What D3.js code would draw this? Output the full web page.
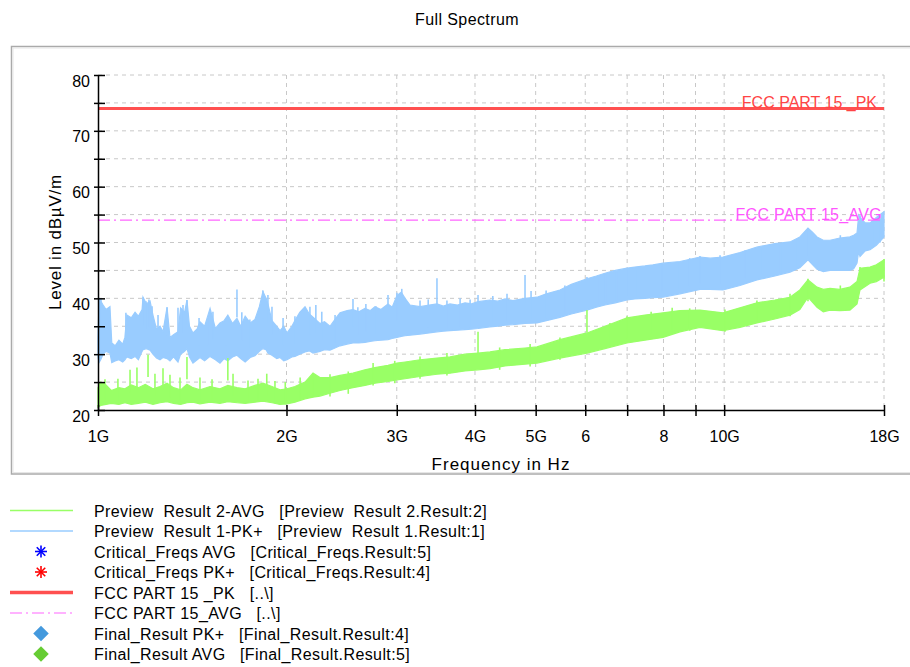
<!DOCTYPE html>
<html>
<head>
<meta charset="utf-8">
<script src="https://cdn.jsdelivr.net/npm/d3@7/dist/d3.min.js"></script>
<style>
  html, body { margin: 0; padding: 0; background: #ffffff; }
  svg { display: block; font-family: "Liberation Sans", Arial, sans-serif; }
</style>
</head>
<body>
<svg id="chart" width="910" height="667"></svg>
<script>
// ---------- DATA ----------
const chartTitle = "Full Spectrum";
const xAxisTitle = "Frequency in Hz";
const yAxisTitle = "Level in dBµV/m";

// x ticks in GHz
const xTickValues = [1, 2, 3, 4, 5, 6, 7, 8, 9, 10, 18];
const xTickLabels = ["1G", "2G", "3G", "4G", "5G", "6", "", "8", "", "10G", "18G"];
const yTickValues = [20, 25, 30, 35, 40, 45, 50, 55, 60, 65, 70, 75, 80];
const yTickLabels = ["20", "", "30", "", "40", "", "50", "", "60", "", "70", "", "80"];

// Preview Result 1-PK+ : envelope of the dense trace (GHz, dBµV/m)
const pkFreq = [1.000,1.004,1.010,1.019,1.030,1.045,1.052,1.065,1.080,1.095,1.104,1.112,1.130,1.146,1.160,1.176,1.180,1.195,1.211,1.224,1.240,1.256,1.270,1.289,1.303,1.320,1.342,1.355,1.375,1.387,1.400,1.418,1.440,1.455,1.480,1.510,1.540,1.566,1.590,1.612,1.640,1.667,1.690,1.718,1.750,1.781,1.810,1.834,1.855,1.868,1.896,1.930,1.953,1.980,2.004,2.040,2.063,2.100,2.141,2.175,2.205,2.262,2.300,2.347,2.400,2.435,2.500,2.554,2.610,2.669,2.720,2.769,2.830,2.905,2.950,3.002,3.050,3.093,3.150,3.268,3.380,3.478,3.560,3.649,3.750,3.856,3.950,4.045,4.227,4.350,4.467,4.600,4.808,5.024,5.200,5.467,5.700,6.038,6.250,6.451,6.700,6.996,7.200,7.472,7.700,7.986,8.500,9.149,9.500,9.957,10.60,11.28,12.05,12.74,13.21,13.61,13.85,14.07,14.40,14.76,15.30,15.88,16.10,16.30,16.40,16.48,16.80,17.10,17.50,18.00];
const pkLow  = [29.5,28.5,29.0,30.0,30.5,30.2,28.5,28.8,29.0,28.6,29.0,29.5,29.2,29.6,29.0,30.5,30.8,31.0,30.7,30.0,29.3,29.0,29.4,29.2,28.8,29.5,28.6,30.0,30.5,31.0,29.5,28.4,29.0,29.4,28.8,29.6,29.0,28.4,29.2,28.8,29.5,29.8,29.2,28.6,29.4,29.7,30.5,31.0,30.8,30.2,29.8,29.2,29.4,28.8,29.0,29.5,29.6,30.0,30.4,30.6,30.2,30.5,30.8,30.7,31.2,31.5,31.8,32.0,32.0,32.1,32.3,32.4,32.5,32.6,32.8,33.0,33.2,33.3,33.4,33.6,33.8,34.0,34.1,34.2,34.3,34.4,34.5,34.6,34.9,35.0,35.2,35.3,35.5,35.6,36.0,36.6,37.2,37.9,38.4,38.8,39.2,39.7,39.9,40.0,40.1,40.2,40.8,41.6,41.6,41.5,42.3,43.3,44.0,44.7,45.5,46.9,46.0,45.2,44.8,45.0,45.0,45.0,45.3,46.3,48.5,47.5,48.5,48.7,49.5,51.0];
const pkHigh = [33.0,40.0,39.5,38.8,38.0,38.5,32.0,31.5,32.5,31.8,33.0,37.0,36.5,37.5,36.8,38.0,40.2,39.0,39.5,37.0,34.5,35.0,34.0,38.4,33.0,33.5,34.0,38.3,37.5,39.7,35.0,33.8,34.5,35.8,35.0,38.2,34.6,35.6,36.0,37.0,35.5,36.4,35.0,36.8,35.6,36.2,38.5,41.2,40.0,39.0,36.0,35.0,34.2,35.0,33.8,35.0,36.0,37.5,38.5,37.2,36.6,35.5,35.8,35.0,36.5,37.4,37.8,38.0,37.6,38.2,37.8,38.5,38.0,39.0,38.4,40.5,41.1,40.0,38.8,38.5,38.8,39.0,38.6,39.0,38.8,39.2,39.0,39.4,39.7,39.5,39.9,39.6,40.0,40.2,40.8,41.5,42.5,43.5,44.0,44.5,45.0,45.4,45.6,45.8,46.0,46.3,46.6,47.4,47.2,47.4,48.2,49.2,49.8,50.1,51.0,52.6,51.8,51.0,50.4,50.4,50.8,51.0,51.3,51.7,54.9,54.5,53.5,53.5,54.5,55.5];

// Preview Result 2-AVG : envelope of the dense trace
const avgFreq = [1.000,1.010,1.030,1.050,1.080,1.104,1.130,1.160,1.190,1.224,1.256,1.289,1.320,1.355,1.387,1.418,1.455,1.510,1.566,1.612,1.667,1.718,1.781,1.834,1.896,1.953,2.004,2.063,2.141,2.205,2.262,2.347,2.435,2.554,2.669,2.769,2.905,3.002,3.093,3.268,3.478,3.649,3.856,4.045,4.227,4.467,4.808,5.024,5.467,6.038,6.451,6.996,7.472,7.986,8.500,9.149,9.957,10.60,11.28,12.05,12.74,13.21,13.61,14.07,14.40,14.76,15.30,15.88,16.30,16.48,17.10,17.50,18.00];
const avgLow  = [20.5,20.8,21.0,21.2,21.0,21.3,21.0,21.2,21.4,21.0,21.3,21.5,21.2,21.0,21.3,21.4,21.1,21.4,21.2,21.5,21.3,21.2,21.4,21.6,21.3,21.0,21.1,21.4,22.0,22.3,22.5,23.0,23.5,24.0,24.4,24.8,25.1,25.4,25.6,26.0,26.4,26.6,27.0,27.2,27.4,27.9,28.2,28.4,29.3,30.2,31.0,32.0,32.5,33.0,34.0,34.8,34.2,34.8,35.6,36.3,37.0,38.0,40.2,38.4,37.6,37.9,37.8,37.9,39.0,41.5,42.7,43.0,43.8];
const avgHigh = [24.0,25.0,24.5,23.5,24.0,23.8,24.5,24.0,24.6,23.8,24.2,24.8,24.0,23.6,24.6,24.0,23.6,24.2,23.8,24.4,24.0,23.8,24.4,24.8,24.2,23.6,23.8,24.2,25.0,26.6,25.8,25.8,26.2,26.6,27.2,27.6,28.0,28.4,28.6,29.0,29.3,29.5,30.0,30.2,30.4,30.8,31.1,31.3,32.6,33.8,35.0,36.5,37.0,37.4,37.8,37.9,37.4,38.3,39.2,39.7,40.2,41.5,43.3,42.0,41.6,41.8,41.6,42.0,43.0,45.4,45.6,46.0,46.9];

// peaks standing out of the traces (GHz, dBµV/m)
const pkSpikeFreq  = [1.011,1.108,1.180,1.193,1.206,1.220,1.247,1.289,1.342,1.367,1.387,1.450,1.498,1.526,1.601,1.667,1.697,1.748,1.834,1.868,1.896,1.975,2.063,2.180,2.228,2.277,2.391,2.554,2.600,2.678,2.779,2.905,3.002,3.056,3.268,3.368,3.478,3.608,3.787,3.929,4.045,4.271,4.500,4.808,4.916,5.196,5.567,6.038,6.283,6.466,6.730,6.996,7.264,7.957,8.430,8.810,9.149,9.850,10.80,11.42,12.30,13.09,13.61,15.33,16.48,17.24,17.74];
const pkSpikeLevel = [40.0,37.4,40.2,39.5,39.8,38.6,37.0,38.4,38.3,38.8,39.7,36.5,36.5,37.6,36.5,41.6,37.5,36.2,41.4,40.6,38.5,36.5,36.8,38.5,38.8,37.6,37.0,39.9,38.4,39.0,38.6,40.6,41.0,41.7,39.6,39.8,43.6,39.6,40.0,39.8,40.6,40.4,40.8,44.2,41.3,41.4,42.3,43.8,43.8,44.2,44.6,45.4,45.1,46.2,46.5,47.2,47.6,47.7,48.6,49.2,49.5,50.5,52.6,51.3,54.9,54.0,55.0];
const avgSpikeFreq  = [1.004,1.026,1.076,1.125,1.154,1.202,1.233,1.270,1.303,1.352,1.387,1.455,1.521,1.612,1.643,1.736,1.801,1.860,1.917,1.991,2.103,2.205,2.347,2.510,2.750,2.978,3.268,3.608,4.045,4.380,4.899,5.467,6.038,6.571,6.996,7.645,8.260,8.810,10.03,11.28,12.74,13.61,15.33,16.48,18.00];
const avgSpikeLevel = [25.0,25.5,25.6,27.2,27.6,29.9,26.5,27.5,26.3,25.8,29.5,25.8,25.5,29.3,26.5,25.3,25.6,26.5,25.2,25.0,25.8,26.6,26.4,26.9,28.4,28.8,29.6,30.2,34.0,31.2,31.8,33.0,37.9,35.6,36.8,37.6,38.3,38.2,38.0,39.6,40.8,43.5,42.3,45.6,47.0];

// limit lines
const limitPK = 74;
const limitAVG = 54;
const limitPKLabel = "FCC PART 15 _PK";
const limitAVGLabel = "FCC PART 15_AVG";

// legend
const legendLabels = [
  "Preview  Result 2-AVG   [Preview  Result 2.Result:2]",
  "Preview  Result 1-PK+   [Preview  Result 1.Result:1]",
  "Critical_Freqs AVG   [Critical_Freqs.Result:5]",
  "Critical_Freqs PK+   [Critical_Freqs.Result:4]",
  "FCC PART 15 _PK   [..\\]",
  "FCC PART 15_AVG   [..\\]",
  "Final_Result PK+   [Final_Result.Result:4]",
  "Final_Result AVG   [Final_Result.Result:5]"
];
const legendKinds = ["line", "line", "star", "star", "thick", "dashdot", "diamond", "diamond"];
const legendColors = ["#99ff66", "#99ccff", "#0000ff", "#ff0000", "#ff5050", "#ff66ff", "#4499dd", "#66cc33"];

// ---------- DRAWING ----------
const svg = d3.select("#chart");
const C = {
  pk: "#99ccff", avg: "#99ff66", red: "#ff5050", mag: "#ff66ff", grid: "#c8c8c8"
};

const x = d3.scaleLog().domain([1, 18]).range([98, 884]);
const y = d3.scaleLinear().domain([20, 80]).range([410, 75]);

// outer frame
svg.append("rect").attr("x", 11.5).attr("y", 46.5).attr("width", 900).attr("height", 427.5)
  .attr("fill", "#ffffff").attr("stroke", "#aaaaaa").attr("stroke-width", 1.5);
svg.append("rect").attr("x", 13).attr("y", 48).attr("width", 900).attr("height", 424.5)
  .attr("fill", "none").attr("stroke", "#e6e6e6").attr("stroke-width", 1);

// title
svg.append("text").attr("x", 467).attr("y", 25).attr("text-anchor", "middle")
  .attr("font-size", 16).attr("letter-spacing", 0.4).attr("fill", "#000").text(chartTitle);

// grid
const grid = svg.append("g");
grid.selectAll("line.h").data(yTickValues.filter(v => v > 20)).join("line")
  .attr("x1", x(1)).attr("x2", x(18)).attr("y1", d => y(d)).attr("y2", d => y(d))
  .attr("stroke", C.grid).attr("stroke-dasharray", "4,4").attr("stroke-width", 1);
grid.selectAll("line.v").data(xTickValues.filter(v => v > 1)).join("line")
  .attr("x1", d => x(d)).attr("x2", d => x(d)).attr("y1", y(80)).attr("y2", y(20))
  .attr("stroke", C.grid).attr("stroke-dasharray", "4,4").attr("stroke-width", 1);

// traces
const pkData = pkFreq.map((f, i) => ({ f, lo: pkLow[i], hi: pkHigh[i] }));
const avgData = avgFreq.map((f, i) => ({ f, lo: avgLow[i], hi: avgHigh[i] }));
const band = d3.area().x(d => x(d.f)).y0(d => y(d.lo)).y1(d => y(d.hi)).curve(d3.curveLinear);

svg.append("path").datum(pkData).attr("d", band).attr("fill", C.pk).attr("stroke", C.pk).attr("stroke-width", 1.2);
svg.selectAll("line.pks").data(pkSpikeFreq).join("line")
  .attr("x1", d => x(d)).attr("x2", d => x(d))
  .attr("y1", (d, i) => y(pkSpikeLevel[i])).attr("y2", (d, i) => y(pkSpikeLevel[i] - 5))
  .attr("stroke", C.pk).attr("stroke-width", 1.6);

svg.append("path").datum(avgData).attr("d", band).attr("fill", C.avg).attr("stroke", C.avg).attr("stroke-width", 1.2);
svg.selectAll("line.avs").data(avgSpikeFreq).join("line")
  .attr("x1", d => x(d)).attr("x2", d => x(d))
  .attr("y1", (d, i) => y(avgSpikeLevel[i])).attr("y2", (d, i) => y(avgSpikeLevel[i] - 4))
  .attr("stroke", C.avg).attr("stroke-width", 1.6);

// limit lines
svg.append("line").attr("x1", x(1)).attr("x2", x(18)).attr("y1", y(limitPK)).attr("y2", y(limitPK))
  .attr("stroke", C.red).attr("stroke-width", 3);
svg.append("text").attr("x", 877).attr("y", y(limitPK) - 0.5).attr("text-anchor", "end")
  .attr("font-size", 16).attr("fill", "#ff4444").text(limitPKLabel);
svg.append("line").attr("x1", x(1)).attr("x2", x(18)).attr("y1", y(limitAVG)).attr("y2", y(limitAVG))
  .attr("stroke", C.mag).attr("stroke-width", 1.2).attr("stroke-dasharray", "12,4,2,4");
svg.append("text").attr("x", 882).attr("y", y(limitAVG)).attr("text-anchor", "end")
  .attr("font-size", 16).attr("letter-spacing", 0.3).attr("fill", "#ff55ff").text(limitAVGLabel);

// axes
const xAxis = d3.axisBottom(x).tickValues(xTickValues)
  .tickFormat((d, i) => xTickLabels[i]).tickSizeInner(0).tickSizeOuter(0).tickPadding(0);
const gx = svg.append("g").attr("transform", `translate(0,${y(20)})`).call(xAxis);
gx.select(".domain").attr("stroke", "#000").attr("stroke-width", 1.5);
gx.selectAll(".tick line").attr("y1", -5).attr("y2", 6).attr("stroke", "#000").attr("stroke-width", 1.5);
gx.selectAll(".tick text").attr("y", 32).attr("dy", 0).attr("font-size", 16)
  .attr("font-family", "Liberation Sans, Arial, sans-serif").attr("fill", "#000");

const yAxis = d3.axisLeft(y).tickValues(yTickValues)
  .tickFormat((d, i) => yTickLabels[i]).tickSizeInner(0).tickSizeOuter(0).tickPadding(0);
const gy = svg.append("g").attr("transform", `translate(${x(1)},0)`).call(yAxis);
gy.select(".domain").attr("stroke", "#000").attr("stroke-width", 1.5);
gy.selectAll(".tick line").attr("x1", -4).attr("x2", 7).attr("stroke", "#000").attr("stroke-width", 1.5);
gy.selectAll(".tick text").attr("x", -8).attr("y", 11).attr("dy", 0).attr("font-size", 16)
  .attr("font-family", "Liberation Sans, Arial, sans-serif").attr("fill", "#000");

// axis titles
svg.append("text").attr("x", 501).attr("y", 470).attr("text-anchor", "middle")
  .attr("font-size", 17).attr("letter-spacing", 1.0).attr("fill", "#000").text(xAxisTitle);
svg.append("text").attr("transform", "translate(61,242) rotate(-90)").attr("text-anchor", "middle")
  .attr("font-size", 17).attr("letter-spacing", 0.8).attr("fill", "#000").text(yAxisTitle);

// legend
const lg = svg.append("g");
const rowY = i => 510.5 + i * 20.5;
legendLabels.forEach((lab, i) => {
  const cy = rowY(i), kind = legendKinds[i], col = legendColors[i];
  if (kind === "line") {
    lg.append("line").attr("x1", 10).attr("x2", 73).attr("y1", cy).attr("y2", cy)
      .attr("stroke", col).attr("stroke-width", 1.3);
  } else if (kind === "thick") {
    lg.append("line").attr("x1", 10).attr("x2", 73).attr("y1", cy).attr("y2", cy)
      .attr("stroke", col).attr("stroke-width", 3.5);
  } else if (kind === "dashdot") {
    lg.append("line").attr("x1", 10).attr("x2", 73).attr("y1", cy).attr("y2", cy)
      .attr("stroke", col).attr("stroke-width", 1.2).attr("stroke-dasharray", "12,4,2,4");
  } else if (kind === "star") {
    const s = lg.append("g").attr("transform", `translate(41,${cy})`);
    [0, 45, 90, 135].forEach(a => {
      s.append("line").attr("x1", -6).attr("x2", 6).attr("y1", 0).attr("y2", 0)
        .attr("transform", `rotate(${a})`).attr("stroke", col).attr("stroke-width", 1.6);
    });
  } else if (kind === "diamond") {
    lg.append("path").attr("d", d3.symbol(d3.symbolSquare, 120)())
      .attr("transform", `translate(41,${cy}) rotate(45)`).attr("fill", col);
  }
  lg.append("text").attr("x", 94).attr("y", cy + 6).attr("font-size", 16)
    .attr("letter-spacing", 0.4).attr("fill", "#000").style("white-space", "pre").text(lab);
});
</script>
</body>
</html>
